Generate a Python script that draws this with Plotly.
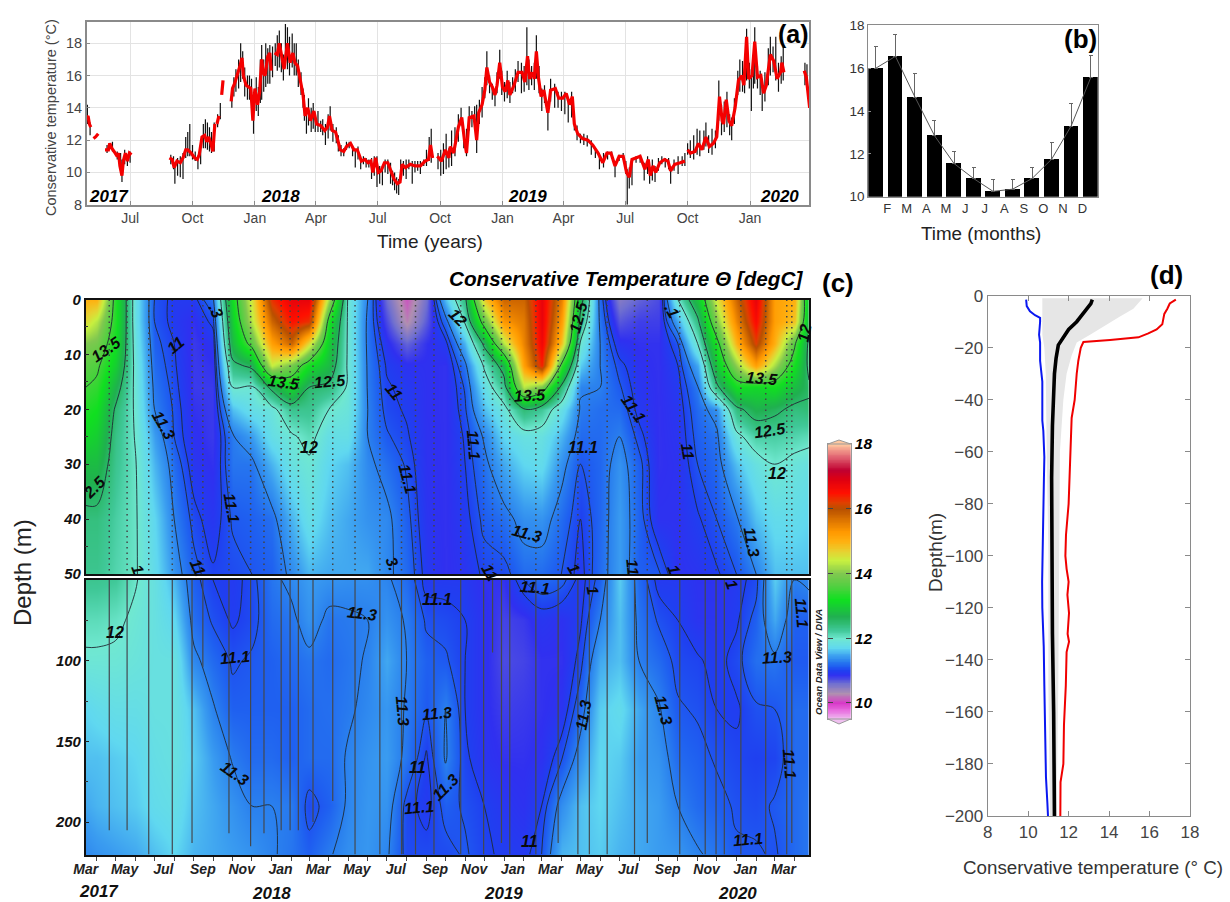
import numpy as np
import pandas as pd
import plotly.graph_objects as go

W, H = 1230, 902

# ---------- panel (a): days since 2017-04-28, None marks a data gap ----------
A_START = pd.Timestamp("2017-04-28")
red_days = [0,2,4,6,None,10,13,17,None,27,32,34,37,42,45,47,49,52,54,57,60,63,66,None,
 122,126,129,133,138,142,146,149,154,159,163,166,170,174,177,180,183,186,189,None,192,195,None,199,201,None,
 213,215,218,222,226,229,231,235,238,242,245,248,252,255,258,260,263,267,270,272,None,
 277,281,284,288,291,296,300,304,307,311,315,319,322,326,330,335,339,345,351,355,358,362,367,371,374,379,383,389,394,399,405,410,415,419,422,426,430,434,439,444,449,453,458,462,465,470,477,484,492,499,504,507,510,None,
 517,523,529,534,536,541,548,553,557,560,564,571,575,578,583,587,590,594,598,602,605,609,613,617,621,624,630,636,642,646,650,653,657,660,663,666,670,674,680,684,691,696,702,707,712,716,719,724,731,739,746,754,761,767,773,779,785,791,796,800,804,810,816,823,828,831,835,839,845,852,857,861,867,875,882,None,
 886,890,897,902,907,913,918,924,929,933,937,939,943,947,951,956,961,966,969,973,976,981,985,989,994,998,1002,1008,1013,1018,1023,1025,1028,None,
 1058,1061,1066,1069]
red_temp = [13.4,13.5,13.0,12.8,None,12.1,12.2,12.4,None,11.4,11.4,11.8,11.5,11.2,11.0,11.2,10.4,9.8,10.7,11.2,10.7,11.2,11.1,None,
 10.9,10.8,10.3,10.7,10.6,10.9,11.4,11.4,11.2,10.9,10.8,11.1,12.2,12.3,11.9,12.2,11.8,11.3,13.0,None,13.0,13.5,None,14.8,15.7,None,
 14.4,15.2,15.5,16.0,16.6,17.1,16.0,15.4,15.3,15.2,13.2,15.2,14.2,15.0,17.0,16.2,16.0,17.2,17.4,16.3,None,
 17.4,17.3,18.0,17.0,16.4,18.0,16.8,17.4,16.8,16.6,15.8,14.8,13.5,14.0,13.2,13.8,13.0,12.9,12.6,12.8,13.5,12.6,12.5,11.9,11.4,11.3,11.6,11.8,11.4,11.4,10.7,10.8,10.6,10.7,10.0,10.9,10.0,10.1,10.6,10.6,10.0,9.6,9.3,9.4,10.5,10.3,10.5,10.4,10.4,10.7,10.8,11.7,10.9,None,
 11.0,10.7,11.4,10.9,11.6,11.2,12.8,13.4,12.0,11.2,13.4,13.5,12.0,13.7,14.2,15.1,16.5,15.6,15.3,14.8,15.4,16.8,15.3,15.0,15.7,14.8,15.4,16.2,16.2,15.6,17.2,15.8,16.2,15.8,17.5,15.9,14.7,15.1,13.7,15.1,15.2,14.6,14.6,14.9,14.2,14.7,13.0,12.4,12.1,12.0,11.7,11.2,10.6,11.2,11.2,10.4,11.0,11.0,10.0,9.7,10.8,10.9,11.0,10.2,10.8,9.8,10.4,10.0,10.6,10.8,10.7,10.1,10.5,10.6,10.7,None,
 11.4,11.2,11.3,11.8,11.4,12.2,11.6,11.8,12.2,14.7,13.2,13.0,14.5,13.2,12.9,14.0,15.7,16.0,15.4,18.4,15.8,16.0,18.1,15.9,16.0,14.9,15.4,17.3,16.9,15.8,16.2,16.8,16.2,None,
 16.3,15.9,14.0,15.2]

daily_days = [1,5,30,38,45,50,52,56,60,64,124,128,130,134,138,142,146,149,152,156,160,164,168,172,175,178,181,184,188,193,197,
 214,217,220,224,227,230,233,237,240,243,246,250,253,256,258,261,264,267,270,274,278,281,284,287,290,293,296,299,303,306,309,312,316,319,321,324,327,331,334,337,341,345,348,352,356,359,363,368,371,375,379,383,387,392,396,400,404,408,412,416,420,424,428,432,436,440,444,448,451,454,457,460,463,467,471,475,480,484,488,492,497,501,505,508,
 518,522,526,530,534,538,543,548,552,556,560,564,568,572,575,579,583,587,590,594,598,602,605,609,612,616,620,624,628,632,636,641,645,649,652,656,660,663,667,671,675,680,684,690,695,700,705,710,715,719,723,728,733,738,744,750,756,762,768,774,779,785,791,795,797,800,804,810,816,822,827,830,834,838,843,848,853,858,861,866,872,878,882,
 886,890,895,900,904,910,913,917,922,927,932,936,940,944,948,951,955,960,963,967,970,973,977,980,983,985,989,993,996,1000,1005,1008,1012,1016,1020,1024,1027,1059,1062,1066,1069]
daily_lo = [13,12.3,11.2,11.3,10.8,10.2,9.4,10.5,10.4,10.6,10.5,10.2,9.3,9.8,9.7,9.6,10.9,11,11,10.8,10.7,10.2,10.5,11.5,11.5,11.4,11.3,11.2,11.3,12.8,13.3,
 14.0,14.7,15,15.2,15.6,15.8,14.7,14.5,14.5,14.3,12.4,13.8,13.5,14.3,14.5,15,15.3,15.5,15.5,15.9,16.6,16.3,16.5,16.2,15.7,16.5,16.4,16,16.5,16,16,15.3,14.8,14,13.2,12.4,12.9,12.5,12.7,12.5,12.5,12.5,12.3,11.7,12.1,12.6,11.9,11.8,11.3,11,11,11.4,11.5,11,10.3,10.8,10.2,10.5,10.3,10.3,9.6,9.8,9.1,9.3,9.2,10,9.9,9.3,9.2,8.9,8.7,8.6,9.8,9.8,9.6,10.2,9.3,10,10.1,9.9,10.4,10.4,10.7,10.6,
 10.2,9.8,9.9,10.2,10.3,10.4,11,11.9,12.9,11.5,11,12.6,12.8,12.6,11.2,13,13.4,14.6,15.4,14.9,14.5,14.1,14.9,15.8,14.8,14.4,14.6,14.3,14.9,15,15.6,14.9,15,15.4,15.1,15.4,15.1,15.8,14.9,13.8,14.3,12.6,14.4,14,14,13.8,13.6,13.1,13.4,12.6,12,11.8,11.7,11.6,11.1,10.9,10.2,10.3,10.8,10.9,9.7,10.7,10.8,9.9,8,9,9.2,10.6,10.6,9.5,9.9,9.3,9.5,9.4,10.1,10.5,10.3,10.2,9.3,10.1,9.9,10.4,10.4,
 11.1,10.9,10.8,11.1,11,11.4,11.6,11.2,11.1,11.5,13.2,12.3,12.5,12.8,12.3,12,13,14.8,15,15,14.9,15.7,15.2,13.8,15.2,15.5,15.2,14.8,13.8,14.4,15.4,16,16.2,15.7,15,15.5,15.7,15.4,15.4,13,14]
daily_hi = [14.2,13.1,11.7,11.9,11.3,11.2,10.8,11.4,11,11.3,11.1,11,10.6,10.9,11,11.2,12.2,12.5,13,11.7,11.3,11,11.8,13.0,13.3,13.1,12.8,12.5,13.1,13.6,14.3,
 15.2,15.9,16.4,17,18,17.5,16.5,16,16,15.8,15,15.9,15.3,17,17.9,17,18,17.7,17.9,17.8,18,18.5,18.8,18,17.3,19.2,19,18.4,18.6,18,18,17,16.2,15.2,14.8,14,14.6,14,14.3,13.7,13.8,13.2,13.3,13,13.6,14.1,13,12.8,12.3,11.7,11.5,11.9,11.9,11.6,11.4,11.6,10.9,11,10.9,10.8,10.9,11,11,10.4,10.3,10.8,10.8,10.6,10.1,10,9.7,9.6,10.8,10.7,10.8,10.8,10.7,10.7,10.7,10.7,10.8,11.4,12.2,12.7,
 11.2,11.4,11.8,12.4,11.5,12.6,12.8,13.6,14,12.5,12.7,14.1,13.8,14.1,14.2,14.5,15.3,15.9,17.5,16,15.5,15.1,16.2,17.6,16.3,15.6,16.3,15.6,15.9,16.4,16.9,16.8,16.6,19,17,16.6,16.8,18.5,16.6,15.2,15.4,14.4,15.8,15.5,15,15,15,14.4,15,13.5,12.9,12.4,12.4,12.3,12,11.5,11,11.2,11.3,11.3,10.7,11.1,11.2,10.7,10.2,10.3,10.9,11,11.1,10.6,11,10.2,10.8,10.4,10.9,11,10.9,10.9,10.4,10.8,11,11,11.2,
 11.8,12,12.3,12.7,12.6,12.6,13.1,12.3,12.7,12.6,15.7,14.2,14.4,15,13.6,13.4,14.6,16.3,17,16.9,16.5,18.9,16.8,16.4,17.3,19,16.6,16.3,15.4,16.2,17.7,18.4,17.8,18.4,16.8,17.2,17.8,16.8,16.7,15,16.4]

year_labels_a = ["2017", "2018", "2019", "2020"]

# ---------- panel (b) ----------
month_letters = ["F","M","A","M","J","J","A","S","O","N","D"]
month_mean = [16.0,16.55,14.65,12.85,11.55,10.85,10.25,10.35,10.85,11.75,13.3,15.55]
month_upper = [17.0,17.55,15.75,13.55,12.1,11.35,10.8,10.8,11.35,12.55,14.35,16.6]

# ---------- panel (c): one row per time node, one value per depth ----------
depths_upper = [0,4,8,12,16,20,25,30,40,50]
depths_lower = [50,75,100,130,160,190,220]
time_nodes = ["2017-03-15"] + [d.strftime("%Y-%m-%d") for d in pd.date_range("2017-04-01","2020-04-01",freq="MS")] + ["2020-04-24"]
upper_by_time = [
 [15.0,14.6,14.0,13.7,13.5,13.3,13.1,12.8,12.4,12.3],
 [15.0,14.3,13.9,13.6,13.4,13.2,13.0,12.8,12.4,12.3],
 [13.3,13.3,13.2,13.0,12.7,12.45,12.35,12.3,12.2,12.15],
 [11.8,11.8,11.85,11.9,11.92,11.95,11.98,12.02,12.03,12.03],
 [11.1,11.1,11.15,11.2,11.25,11.3,11.45,11.55,11.7,11.75],
 [10.95,10.95,11,11.02,11.05,11.08,11.1,11.2,11.3,11.4],
 [10.95,10.85,10.82,10.82,10.82,10.85,10.88,10.92,11.05,11.15],
 [11.25,11.05,10.9,10.85,10.82,10.82,10.82,10.85,10.92,11.02],
 [13.2,13.0,12.8,12.4,12.0,11.6,11.28,11.25,11.12,11.05],
 [14.5,14.3,13.7,12.6,11.95,11.8,11.45,11.25,11.15,11.1],
 [16.3,15.8,15.2,14.4,12.6,11.9,11.8,11.55,11.22,11.15],
 [16.8,16.5,15.8,13.9,13.1,12.3,11.95,11.85,11.55,11.35],
 [16.8,16.3,14.6,13.2,12.5,12.3,12.1,11.95,11.8,11.55],
 [14.2,13.3,13.0,12.8,12.4,12,11.8,11.7,11.6,11.5],
 [11.95,11.95,11.95,11.95,11.95,11.9,11.8,11.6,11.5,11.5],
 [11.3,11.25,11.25,11.27,11.28,11.3,11.3,11.35,11.4,11.5],
 [10.6,10.75,10.9,10.98,11.02,11.05,11.12,11.22,11.35,11.35],
 [10.1,10.25,10.65,10.88,10.95,10.98,11.02,11.08,11.15,11.2],
 [10.6,10.7,10.85,10.87,10.87,10.87,10.88,10.88,10.9,10.95],
 [11.6,11.2,10.95,10.85,10.85,10.85,10.85,10.85,10.85,10.85],
 [12.4,12.05,11.55,11.25,11.12,11.08,11.02,11.0,10.95,10.9],
 [14.8,13.8,12.6,12.05,11.8,11.6,11.33,11.24,11.14,11.03],
 [15.8,15.3,14.3,12.7,12.3,11.9,11.7,11.5,11.22,11.05],
 [15.8,15.6,15.5,15.2,14.3,12.45,11.85,11.7,11.38,11.2],
 [16.8,16.8,16.7,16.4,13.9,12.25,11.85,11.75,11.4,11.2],
 [15.5,15.2,14.8,13.4,12.4,11.8,11.55,11.38,11.2,11.1],
 [12.7,12.35,11.95,11.65,11.32,11.28,11.2,11.1,11.0,10.95],
 [11.2,11.25,11.3,11.3,11.3,11.22,11.2,11.18,11.18,11.2],
 [10.5,10.7,10.9,11.05,11.12,11.2,11.3,11.4,11.45,11.45],
 [10.65,10.8,10.85,10.88,10.92,10.95,11.05,11.15,11.17,11.15],
 [10.75,10.8,10.85,10.85,10.85,10.85,10.85,10.85,10.88,11.12],
 [12.0,11.5,11.1,11.0,10.95,10.92,10.9,10.88,10.88,10.88],
 [12.9,12.4,12.0,11.5,11.28,11.2,11.15,11.1,10.98,10.9],
 [14.5,14.0,13.3,12.9,12.4,11.4,11.25,11.2,11.1,10.98],
 [15.8,15.5,15.0,14.1,13.2,12.4,11.9,11.6,11.27,11.1],
 [16.8,16.6,16.2,15.2,13.1,12.7,12.2,11.85,11.6,11.3],
 [15.2,15.2,15.0,14.2,13.2,12.6,12.2,12.0,11.75,11.6],
 [15.0,14.8,13.6,13.2,12.8,12.4,12.15,11.9,11.75,11.6],
 [12.8,12.7,12.4,12.4,12.55,12.45,12.1,11.85,11.7,11.6],
]
lower_by_time = [
 [12.3,12.1,11.95,11.7,11.6,11.5,11.35],
 [12.3,12.1,11.95,11.75,11.6,11.55,11.4],
 [12.25,12.05,11.95,11.8,11.65,11.6,11.45],
 [12.02,11.95,11.9,11.8,11.7,11.65,11.5],
 [11.85,11.85,11.85,11.85,11.8,11.75,11.6],
 [11.55,11.7,11.85,11.85,11.85,11.8,11.7],
 [11.15,11.22,11.35,11.6,11.65,11.6,11.55],
 [11.0,11.08,11.2,11.32,11.45,11.5,11.5],
 [10.95,10.98,11.08,11.15,11.28,11.4,11.45],
 [11.05,11.05,11.12,11.15,11.2,11.3,11.4],
 [11.25,11.2,11.15,11.15,11.2,11.3,11.32],
 [11.35,11.25,11.2,11.15,11.15,11.27,11.25],
 [11.45,11.4,11.25,11.2,11.2,11.05,11.15],
 [11.4,11.25,11.2,11.22,11.2,11.15,11.28],
 [11.38,11.27,11.25,11.27,11.32,11.33,11.38],
 [11.38,11.3,11.32,11.35,11.4,11.42,11.42],
 [11.33,11.4,11.5,11.42,11.45,11.4,11.33],
 [11.2,11.28,11.3,11.28,11.25,11.05,11.05],
 [10.95,11.08,11.15,11.12,10.98,10.95,11.05],
 [10.95,11.05,11.12,11.3,11.32,11.15,11.05],
 [10.95,11.0,11.0,11.0,11.03,11.08,11.12],
 [10.85,10.88,10.88,10.88,10.9,11.0,11.02],
 [10.85,10.78,10.75,10.8,10.85,10.92,10.98],
 [11.1,10.82,10.78,10.82,10.85,10.88,10.95],
 [11.2,10.92,10.85,10.85,10.88,11.0,11.1],
 [11.15,10.88,10.85,10.9,11.08,11.38,11.55],
 [10.95,10.98,11.05,11.2,11.4,11.6,11.6],
 [11.15,11.3,11.5,11.65,11.7,11.7,11.65],
 [11.65,11.6,11.6,11.75,11.65,11.6,11.55],
 [11.2,11.25,11.3,11.5,11.45,11.5,11.5],
 [10.95,11.08,11.2,11.32,11.4,11.45,11.45],
 [10.95,11.0,11.05,11.12,11.2,11.3,11.42],
 [10.88,10.9,11.02,11.08,11.15,11.2,11.32],
 [10.88,10.9,10.95,11.0,11.08,11.15,11.25],
 [10.95,10.98,11.05,10.98,11.03,11.08,11.12],
 [11.05,11.15,11.22,11.08,11.0,11.05,11.12],
 [11.65,11.5,11.25,11.1,11.02,11.12,11.08],
 [11.3,11.15,11.12,11.2,11.2,11.2,11.2],
 [11.35,11.15,11.12,11.2,11.2,11.25,11.25],
]
contour_levels = [11, 11.1, 11.3, 12, 12.5, 13.5]
cast_days = [37,65,99,136,167,184,225,259,280,307,321,334,357,388,423,462,496,518,547,589,625,639,653,666,707,742,773,791,819,862,882,933,973,990,1003,1029,1068,1101,1109]
cast_bottom = [205,205,220,220,213,104,207,215,207,205,205,205,200,187,220,220,220,220,220,220,220,95,213,220,220,213,220,220,220,220,213,220,220,220,220,220,220,220,213]
C_START = pd.Timestamp("2017-03-15")

scale_temps = [9.5,9.77,10,10.3,10.6,10.86,11.0,11.15,11.3,11.45,11.7,12,12.25,12.67,13.2,13.6,14,14.4,14.7,15,15.3,15.7,16,16.2,16.5,16.9,17.2,17.6,18]
scale_colors = ["#f0c0f0","#e870e0","#d838c8","#b090b0","#7070d0","#3030f0","#1f40f0","#1f60f0","#2a80ee","#3a9cf0","#60d8f0","#70e8d0","#40c898","#20b050","#10e020","#50d040","#80c850","#c8f040","#e8d030","#ffb010","#ff9800","#d87000","#b85000","#e04000","#ff1000","#e00010","#c00030","#e06070","#ffc8a0"]

# ---------- panel (d) ----------
blue_t = [9.9,9.93,10.09,10.34,10.59,10.59,10.54,10.59,10.59,10.64,10.7,10.7,10.7,10.75,10.8,10.78,10.75,10.72,10.69,10.7,10.77,10.8,10.83,10.88,10.95,10.98]
blue_z = [-1.5,-4,-6,-7.5,-8.5,-10,-15,-18,-25,-30,-33,-40,-48,-52,-62,-70,-80,-100,-110,-120,-135,-150,-170,-185,-195,-200]
black_t = [13.17,13.1,12.8,12.4,12.0,11.74,11.49,11.38,11.3,11.25,11.2,11.16,11.16,11.2,11.26,11.3]
black_z = [-1.5,-3,-6,-10,-13,-16,-19,-24,-30,-40,-50,-70,-100,-130,-160,-200]
red_t = [17.3,17.0,16.88,16.73,16.63,16.35,15.94,15.45,14.05,12.73,12.6,12.48,12.4,12.3,12.15,12.1,12.04,12,11.87,11.84,11.9,12,11.94,12.02,11.95,12.02,11.9,11.86,11.77,11.74,11.6,11.59]
red_z = [-1.5,-3,-5,-7,-11,-13,-14.5,-16,-17,-17.8,-20,-25,-30,-40,-47,-60,-70,-80,-92,-100,-105,-110,-115,-122,-130,-133,-137,-150,-165,-180,-187,-200]
spread_hi_t = [15.66,15.2,14.54,13.72,13.06,12.4,12.15,11.9,11.74,11.57,11.54,11.49,11.4]
spread_hi_z = [-1,-5,-8,-12,-15,-18,-23,-30,-40,-60,-100,-150,-200]
spread_lo_t = [10.7,10.7,10.8,10.87,10.9,11.0,11.0,11.08]
spread_lo_z = [-1,-15,-20,-30,-50,-100,-150,-200]

# ---------- helpers ----------
def px_x(x): return x / W
def px_y(y): return 1 - y / H
def dom_x(l, r): return [px_x(l), px_x(r)]
def dom_y(t, b): return [px_y(b), px_y(t)]
def a_date(d): return None if d is None else (A_START + pd.Timedelta(days=d)).strftime("%Y-%m-%d")
def c_date(d): return (C_START + pd.Timedelta(days=d)).strftime("%Y-%m-%d")

FONT = "Liberation Sans"
scale_span = scale_temps[-1] - scale_temps[0]
colorscale = [[(t - scale_temps[0]) / scale_span, c] for t, c in zip(scale_temps, scale_colors)]

fig = go.Figure()

# panel a
xs, ys = [], []
for d, lo, hi in zip(daily_days, daily_lo, daily_hi):
    xs += [a_date(d), a_date(d), None]
    ys += [lo, hi, None]
fig.add_trace(go.Scatter(x=xs, y=ys, mode="lines", line=dict(color="#111", width=1.2), xaxis="x", yaxis="y", showlegend=False, hoverinfo="skip"))
fig.add_trace(go.Scatter(x=[a_date(d) for d in red_days], y=red_temp, mode="lines", line=dict(color="#f40000", width=3.2), connectgaps=False, xaxis="x", yaxis="y", showlegend=False))

# panel b
month_pos = list(range(1, 13))
fig.add_trace(go.Bar(x=month_pos, y=month_mean, width=0.75, marker=dict(color="black", line=dict(width=0)),
    error_y=dict(type="data", symmetric=False, array=[u - m for u, m in zip(month_upper, month_mean)], arrayminus=[0]*12, color="#666", thickness=1, width=2),
    xaxis="x2", yaxis="y2", showlegend=False))
fig.add_trace(go.Scatter(x=month_pos, y=month_mean, mode="lines", line=dict(color="#555", width=1), xaxis="x2", yaxis="y2", showlegend=False))

# panel c
upper = np.array(upper_by_time).T
lower = np.array(lower_by_time).T
fig.add_trace(go.Heatmap(x=time_nodes, y=depths_upper, z=upper, zmin=scale_temps[0], zmax=scale_temps[-1], colorscale=colorscale, zsmooth="best", showscale=False, xaxis="x3", yaxis="y3"))
fig.add_trace(go.Heatmap(x=time_nodes, y=depths_lower, z=lower, zmin=scale_temps[0], zmax=scale_temps[-1], colorscale=colorscale, zsmooth="best", showscale=False, xaxis="x4", yaxis="y4"))
for lev in contour_levels:
    for z, dep, xa, ya in ((upper, depths_upper, "x3", "y3"), (lower, depths_lower, "x4", "y4")):
        fig.add_trace(go.Contour(x=time_nodes, y=dep, z=z, autocontour=False, contours=dict(start=lev, end=lev, size=1, coloring="none"),
                                 line=dict(color="#1f2a33", width=0.9), showscale=False, xaxis=xa, yaxis=ya, hoverinfo="skip"))
cx_u, cy_u, cx_l, cy_l = [], [], [], []
for d, b in zip(cast_days, cast_bottom):
    cx_u += [c_date(d), c_date(d), None]; cy_u += [0, 50, None]
    cx_l += [c_date(d), c_date(d), None]; cy_l += [50, b, None]
fig.add_trace(go.Scatter(x=cx_u, y=cy_u, mode="lines", line=dict(color="#444", width=1.5, dash="1.5px,4px"), xaxis="x3", yaxis="y3", showlegend=False, hoverinfo="skip"))
fig.add_trace(go.Scatter(x=cx_l, y=cy_l, mode="lines", line=dict(color="#43484f", width=1.2), xaxis="x4", yaxis="y4", showlegend=False, hoverinfo="skip"))

# colour scale drawn as its own small heatmap axis, so it does not push the page margins
scale_axis = np.linspace(scale_temps[0], scale_temps[-1], 171)
fig.add_trace(go.Heatmap(x=[0, 1], y=scale_axis, z=[[v, v] for v in scale_axis], zmin=scale_temps[0], zmax=scale_temps[-1], colorscale=colorscale, zsmooth="best", showscale=False, xaxis="x6", yaxis="y6", hoverinfo="skip"))

# panel d
fig.add_trace(go.Scatter(x=spread_hi_t + spread_lo_t[::-1], y=spread_hi_z + spread_lo_z[::-1], mode="lines", fill="toself", fillcolor="#e6e6e6", line=dict(width=0), xaxis="x5", yaxis="y5", showlegend=False, hoverinfo="skip"))
fig.add_trace(go.Scatter(x=blue_t, y=blue_z, mode="lines", line=dict(color="#0a18f0", width=2), xaxis="x5", yaxis="y5", showlegend=False))
fig.add_trace(go.Scatter(x=red_t, y=red_z, mode="lines", line=dict(color="#f00000", width=2), xaxis="x5", yaxis="y5", showlegend=False))
fig.add_trace(go.Scatter(x=black_t, y=black_z, mode="lines", line=dict(color="black", width=3.6), xaxis="x5", yaxis="y5", showlegend=False))

# ---------- text ----------
ann = []
def txt(s, x, y, size, color="black", angle=0, bold=False, italic=False, anchor="center", family=FONT):
    ann.append(dict(text=s, x=px_x(x), y=px_y(y), xref="paper", yref="paper", xanchor=anchor, yanchor="middle", showarrow=False, textangle=angle,
                    font=dict(family=family, size=size, color=color, weight="bold" if bold else "normal", style="italic" if italic else "normal")))

txt("Conservative temperature (°C)", 51, 118, 14.5, "#444", angle=-90)
txt("Time (years)", 430, 241, 19, "#222")
for s, x in zip(year_labels_a, [109, 280, 527, 779]):
    txt(s, x, 197, 17, bold=True, italic=True)
txt("(a)", 793, 34, 25, bold=True)
txt("(b)", 1080, 39, 26, bold=True)
txt("(c)", 838, 283, 26, bold=True)
txt("(d)", 1166, 275, 26, bold=True)
txt("Time (months)", 981, 234, 18.8, "#222")
txt("Conservative Temperature Θ [degC]", 805, 278, 20.7, bold=True, italic=True, anchor="right")
txt("Depth (m)", 22, 573, 24, "#222", angle=-90)
txt("Depth(m)", 935, 553, 19, "#333", angle=-90)
txt("Conservative temperature (° C)", 1093, 867, 18.8, "#333")
txt("Ocean Data View / DIVA", 818, 662, 9.5, "#222", angle=-90, bold=True, italic=True)
for s, x, y in (("2017", 99, 891), ("2018", 271, 893), ("2019", 504, 893), ("2020", 737, 893)):
    txt(s, x, y, 17, "#111", bold=True, italic=True)

contour_labels = [
 ("13.5",106,349,-35),("2.5",94,487,-45),("11",175,345,-40),("11.3",164,425,60),("1",138,569,70),("11",198,567,65),(".3",216,310,65),
 ("11.1",232,508,80),("13.5",284,382,8),("12.5",330,381,-5),("12",309,447,0),("11",394,391,50),("11.1",407,479,75),("3.",393,563,70),
 ("12",458,317,45),("12.5",578,317,-75),("13.5",530,396,-3),("11.1",474,445,85),("11.1",583,447,0),("11.3",527,533,15),("11.1",633,409,55),
 ("11",688,451,80),("13.5",762,378,5),("12.5",770,430,-8),("12",777,473,0),("11.3",752,542,80),("12",805,333,-80),("1",674,569,70),
 ("11",633,567,85),("1",574,568,60),("11",490,572,60),(".1",672,310,60),
 ("12",115,632,0),("11.1",235,657,-5),("11.3",235,773,35),("11.3",362,613,7),("11.3",403,711,85),("11.3",437,713,-5),("11",417,767,0),
 ("11.1",419,807,-5),("11.3",445,787,-45),("11.1",437,599,0),("11",529,841,0),("11.1",535,587,5),("11.3",583,715,-80),("11.3",664,710,75),
 ("11.3",777,657,-3),("11.1",748,839,-5),("11.1",790,764,85),("11.1",802,613,85),("1",593,590,80),("1",732,584,70),
]
for s, x, y, a in contour_labels:
    txt(s, x, y, 16, "#0a0a0a", angle=a, bold=True, italic=True)

# colour scale end caps
shapes = [
 dict(type="path", xref="paper", yref="paper", path=f"M {px_x(828)} {px_y(444)} L {px_x(839)} {px_y(440)} L {px_x(850.7)} {px_y(444)} Z", fillcolor="#ffc8a0", line=dict(color="#999", width=1)),
 dict(type="path", xref="paper", yref="paper", path=f"M {px_x(828)} {px_y(719)} L {px_x(839)} {px_y(724)} L {px_x(850.7)} {px_y(719)} Z", fillcolor="#f0c0f0", line=dict(color="#999", width=1)),
]

month_starts = [d.strftime("%Y-%m-%d") for d in pd.date_range("2017-04-01", "2020-04-01", freq="MS")]
mid_months = [d.strftime("%Y-%m-15") for d in pd.date_range("2017-03-01", "2020-03-01", freq="2MS")]
mid_names = [pd.Timestamp(d).strftime("%b") for d in mid_months]
GREY = "#8a8a8a"

fig.update_layout(
    width=W, height=H, autosize=False, margin=dict(l=0, r=0, t=0, b=0, pad=0, autoexpand=False), paper_bgcolor="white", plot_bgcolor="white",
    showlegend=False, annotations=ann, shapes=shapes, bargap=0,
    xaxis=dict(domain=dom_x(86.7, 809), type="date", range=["2017-04-28", "2020-03-28"], dtick="M3", tick0="2017-01-01", tickformat="%b",
               showgrid=True, gridcolor="#e3e3e3", ticks="inside", ticklen=4, tickcolor=GREY, showline=True, linecolor=GREY, linewidth=1.5, mirror=True, tickfont=dict(family=FONT, size=14, color="#444")),
    yaxis=dict(domain=dom_y(22, 204.7), range=[8, 19.32], tickvals=[8,10,12,14,16,18], showgrid=True, gridcolor="#e3e3e3", ticks="inside", ticklen=4, tickcolor=GREY,
               showline=True, linecolor=GREY, linewidth=1.5, mirror=True, tickfont=dict(family=FONT, size=14.5, color="#444"), zeroline=False),
    xaxis2=dict(domain=dom_x(868.3, 1097.7), anchor="y2", range=[0.61, 12.36], tickmode="array", tickvals=[k + 0.58 for k in range(1, 12)], ticktext=month_letters,
                ticks="", showline=True, linecolor=GREY, linewidth=1.2, mirror=True, showgrid=False, zeroline=False, tickfont=dict(family=FONT, size=13, color="#333")),
    yaxis2=dict(domain=dom_y(25.3, 196.7), anchor="x2", range=[10, 18], tickvals=[10,12,14,16,18], ticks="inside", ticklen=3, tickcolor=GREY, showline=True, linecolor=GREY, linewidth=1.2, mirror=True,
                showgrid=False, zeroline=False, tickfont=dict(family=FONT, size=13.5, color="#333")),
    xaxis3=dict(domain=dom_x(85.7, 809), anchor="y3", type="date", range=["2017-03-15", "2020-04-24"], showticklabels=False, ticks="", showgrid=False, showline=True, linecolor="#111", linewidth=1.5, mirror=True, zeroline=False),
    yaxis3=dict(domain=dom_y(299.5, 574), anchor="x3", range=[50, 0], tickvals=[0,10,20,30,40,50], ticks="inside", ticklen=4, tickcolor="#222", showgrid=False, showline=True, linecolor="#111", linewidth=1.5, mirror=True, zeroline=False,
                minor=dict(ticks="inside", ticklen=3, tickcolor="#333", tickvals=[5,15,25,35,45]), tickfont=dict(family=FONT, size=15, color="#111", weight="bold", style="italic")),
    xaxis4=dict(domain=dom_x(85.7, 809), anchor="y4", type="date", range=["2017-03-15", "2020-04-24"], tickmode="array", tickvals=mid_months, ticktext=mid_names, ticks="", showgrid=False,
                showline=True, linecolor="#111", linewidth=1.5, mirror=True, zeroline=False, minor=dict(ticks="outside", ticklen=4, tickcolor="#444", tickmode="array", tickvals=month_starts),
                tickfont=dict(family=FONT, size=14, color="#222", weight="bold", style="italic")),
    yaxis4=dict(domain=dom_y(580, 855.3), anchor="x4", range=[220.6, 50], tickvals=[100,150,200], ticks="inside", ticklen=4, tickcolor="#222", showgrid=False, showline=True, linecolor="#111", linewidth=1.5, mirror=True, zeroline=False,
                minor=dict(ticks="inside", ticklen=3, tickcolor="#333", tickvals=[75,125,175]), tickfont=dict(family=FONT, size=15, color="#111", weight="bold", style="italic")),
    xaxis5=dict(domain=dom_x(987.7, 1190), anchor="y5", range=[8, 18], tickvals=[8,10,12,14,16,18], ticks="inside", ticklen=5, tickcolor=GREY, showgrid=False, showline=True, linecolor=GREY, linewidth=1.2, mirror="ticks", zeroline=False,
                tickfont=dict(family=FONT, size=17, color="#444")),
    yaxis5=dict(domain=dom_y(295.7, 816), anchor="x5", range=[-200, 0], dtick=20, ticks="inside", ticklen=5, tickcolor=GREY, showgrid=False, showline=True, linecolor=GREY, linewidth=1.2, mirror="ticks", zeroline=False,
                tickfont=dict(family=FONT, size=17, color="#444")),
    xaxis6=dict(domain=dom_x(828, 850.7), anchor="y6", range=[0, 1], showticklabels=False, ticks="", showgrid=False, zeroline=False, showline=True, linecolor="#999", linewidth=1, mirror=True),
    yaxis6=dict(domain=dom_y(444, 719), anchor="x6", side="right", range=[9.5, 18], tickvals=[10,12,14,16,18], ticks="inside", ticklen=5, tickcolor="#444", showgrid=False, zeroline=False,
                showline=True, linecolor="#999", linewidth=1, mirror="ticks", tickfont=dict(family=FONT, size=15.5, color="black", weight="bold", style="italic")),
)
fig.write_html("out.html", config=dict(displayModeBar=False), post_script="document.body.style.margin='0';")
